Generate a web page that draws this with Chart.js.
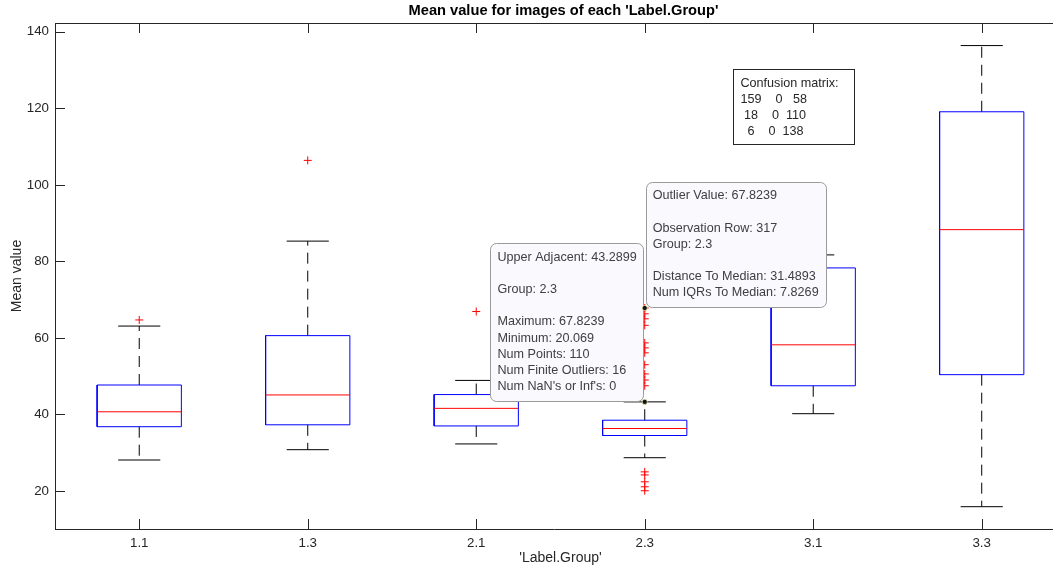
<!DOCTYPE html>
<html>
<head>
<meta charset="utf-8">
<script src="https://cdn.jsdelivr.net/npm/chart.js@4.4.0/dist/chart.umd.min.js"></script>
<style>
  html, body { margin: 0; padding: 0; background: #fff; }
  #wrap { width: 1053px; height: 574px; position: relative; }
</style>
</head>
<body>
<div id="wrap"><canvas id="boxChart"></canvas></div>
<script>
// Box statistics per group
const groups = ['1.1', '1.3', '2.1', '2.3', '3.1', '3.3'];
const lowerAdjacent = [28.1, 30.8, 32.3, 28.7, 40.2, 15.9];
const quartile1 = [36.8, 37.3, 37.0, 34.5, 47.5, 50.4];
const medians = [40.7, 45.1, 41.6, 36.33, 58.2, 88.3];
const quartile3 = [47.7, 60.6, 45.2, 38.5, 78.3, 119.1];
const upperAdjacent = [63.1, 85.3, 48.9, 43.29, 81.7, 136.4];
const outliers = [
    [64.7],
    [106.4],
    [66.9],
    [67.8239, 66.3, 65.0, 63.3, 58.7, 57.4, 56.1, 53.0, 50.6, 49.0, 47.5, 25.0, 24.2, 22.4, 21.1, 20.069],
    [],
    []
];
const yTicks = [20, 40, 60, 80, 100, 120, 140];

// Confusion matrix textbox
const confusion = [[159, 0, 58], [18, 0, 110], [6, 0, 138]];

// Data tips (both on group 2.3)
const adjacentTip = { group: 4, value: 43.2899, lines: ['Upper Adjacent: 43.2899', '', 'Group: 2.3', '', 'Maximum: 67.8239', 'Minimum: 20.069', 'Num Points: 110', 'Num Finite Outliers: 16', "Num NaN's or Inf's: 0"] };
const outlierTip = { group: 4, value: 67.8239, lines: ['Outlier Value: 67.8239', '', 'Observation Row: 317', 'Group: 2.3', '', 'Distance To Median: 31.4893', 'Num IQRs To Median: 7.8269'] };

const FONT = "'Liberation Sans', Arial, Helvetica, sans-serif";
const AXIS_COLOR = '#262626';
const BOX_HALF = 0.25, CAP_HALF = 0.125;

// build line segments (null y breaks the line)
const boxPts = [], medPts = [], whiskerPts = [], capPts = [], outPts = [];
groups.forEach((g, i) => {
    const x = i + 1;
    const gap = { x: x, y: null };
    boxPts.push({ x: x - BOX_HALF, y: quartile1[i] }, { x: x + BOX_HALF, y: quartile1[i] },
        { x: x + BOX_HALF, y: quartile3[i] }, { x: x - BOX_HALF, y: quartile3[i] },
        { x: x - BOX_HALF, y: quartile1[i] }, gap);
    medPts.push({ x: x - BOX_HALF, y: medians[i] }, { x: x + BOX_HALF, y: medians[i] }, gap);
    whiskerPts.push({ x: x, y: quartile3[i] }, { x: x, y: upperAdjacent[i] }, gap,
        { x: x, y: quartile1[i] }, { x: x, y: lowerAdjacent[i] }, gap);
    capPts.push({ x: x - CAP_HALF, y: upperAdjacent[i] }, { x: x + CAP_HALF, y: upperAdjacent[i] }, gap,
        { x: x - CAP_HALF, y: lowerAdjacent[i] }, { x: x + CAP_HALF, y: lowerAdjacent[i] }, gap);
    outliers[i].forEach(v => outPts.push({ x: x, y: v }));
});

const seg = (data, color, dash) => ({
    data: data, borderColor: color, borderWidth: 1, borderDash: dash || [],
    pointRadius: 0, pointHitRadius: 0, spanGaps: false, fill: false, tension: 0
});

function drawTip(ctx, tip, px, py, side) {
    ctx.font = `12.6px ${FONT}`;
    const lineH = 16.2, padX = 7, padY = 6;
    const w = Math.max(...tip.lines.map(l => ctx.measureText(l).width)) + padX * 2;
    const h = tip.lines.length * lineH + padY * 2;
    const left = side === 'left' ? px - w - 1 : px + 1;
    const top = py - h - 1;
    ctx.beginPath();
    ctx.roundRect(Math.round(left) + 0.5, Math.round(top) + 0.5, Math.round(w), Math.round(h), 6);
    ctx.fillStyle = '#f9f9fe';
    ctx.fill();
    ctx.strokeStyle = '#9a9a9a';
    ctx.lineWidth = 1;
    ctx.stroke();
    ctx.fillStyle = '#404040';
    ctx.textAlign = 'left';
    ctx.textBaseline = 'middle';
    tip.lines.forEach((l, k) => ctx.fillText(l, left + padX, top + padY + lineH * (k + 0.5)));
}

const extras = {
    id: 'matlabExtras',
    afterDraw(chart) {
        const { ctx, chartArea: a, scales: { x, y } } = chart;
        ctx.save();
        // axes box top line and inward ticks
        ctx.strokeStyle = AXIS_COLOR;
        ctx.lineWidth = 1;
        ctx.beginPath();
        ctx.moveTo(a.left, Math.round(a.top) + 0.5);
        ctx.lineTo(a.right, Math.round(a.top) + 0.5);
        groups.forEach((g, i) => {
            const px = Math.round(x.getPixelForValue(i + 1)) + 0.5;
            ctx.moveTo(px, a.bottom); ctx.lineTo(px, a.bottom - 10);
            ctx.moveTo(px, a.top); ctx.lineTo(px, a.top + 10);
        });
        yTicks.forEach(v => {
            const py = Math.round(y.getPixelForValue(v)) + 0.5;
            ctx.moveTo(a.left, py); ctx.lineTo(a.left + 10, py);
        });
        ctx.stroke();

        // titles
        const cx = x.getPixelForValue(3.5);
        ctx.fillStyle = '#000';
        ctx.textAlign = 'center';
        ctx.textBaseline = 'middle';
        ctx.font = `bold 14.67px ${FONT}`;
        ctx.fillText("Mean value for images of each 'Label.Group'", cx + 3, 11);
        ctx.fillStyle = AXIS_COLOR;
        ctx.font = `14px ${FONT}`;
        ctx.fillText("'Label.Group'", cx, 558);

        // data tips
        const tx = x.getPixelForValue(adjacentTip.group);
        const ay = y.getPixelForValue(adjacentTip.value);
        const oy = y.getPixelForValue(outlierTip.value);
        drawTip(ctx, adjacentTip, tx, ay, 'left');
        drawTip(ctx, outlierTip, tx, oy, 'right');
        [ay, oy].forEach(py => {
            ctx.beginPath();
            ctx.arc(tx, py, 2.6, 0, Math.PI * 2);
            ctx.fillStyle = '#111';
            ctx.fill();
            ctx.strokeStyle = 'rgba(255,255,190,0.9)';
            ctx.lineWidth = 0.8;
            ctx.stroke();
        });

        // confusion matrix textbox
        ctx.fillStyle = '#fff';
        ctx.fillRect(733, 69, 121, 75);
        ctx.strokeStyle = AXIS_COLOR;
        ctx.lineWidth = 1;
        ctx.strokeRect(733.5, 69.5, 121, 75);
        ctx.fillStyle = AXIS_COLOR;
        ctx.textAlign = 'left';
        ctx.font = `12.6px ${FONT}`;
        const rows = ['Confusion matrix:'].concat(
            confusion.map(r => r.map(v => String(v).padStart(3, ' ')).join('  ')));
        rows.forEach((r, k) => ctx.fillText(r, 740.5, 83.5 + k * 16));
        ctx.restore();
    }
};

new Chart(document.getElementById('boxChart'), {
    type: 'line',
    data: {
        datasets: [
            Object.assign(seg(outPts, '#ff0000'), {
                showLine: false, pointStyle: 'cross', pointRadius: 4,
                pointBorderColor: '#ff0000', pointBorderWidth: 1
            }),
            seg(medPts, '#ff0000'),
            seg(boxPts, '#0000ff'),
            seg(capPts, '#000000'),
            seg(whiskerPts, '#000000', [11, 7])
        ]
    },
    options: {
        responsive: true,
        maintainAspectRatio: false,
        animation: false,
        events: [],
        layout: { autoPadding: false, padding: { top: 23, right: 0, bottom: 0, left: 0 } },
        plugins: { legend: { display: false }, tooltip: { enabled: false }, title: { display: false } },
        scales: {
            x: {
                type: 'linear', min: 0.5, max: 6.423,
                afterFit: s => { s.height = 45; s.paddingLeft = 0; s.paddingRight = 0; },
                afterBuildTicks: s => { s.ticks = groups.map((g, i) => ({ value: i + 1 })); },
                grid: { display: false, drawTicks: false },
                border: { display: true, color: AXIS_COLOR, width: 1 },
                ticks: {
                    padding: 6, color: AXIS_COLOR, maxRotation: 0, autoSkip: false,
                    font: { family: FONT, size: 13.33 },
                    callback: v => groups[v - 1]
                }
            },
            y: {
                type: 'linear', min: 10.07, max: 142.3,
                afterFit: s => { s.width = 55; s.paddingTop = 0; s.paddingBottom = 0; },
                afterBuildTicks: s => { s.ticks = yTicks.map(v => ({ value: v })); },
                grid: { display: false, drawTicks: false },
                border: { display: true, color: AXIS_COLOR, width: 1 },
                ticks: { padding: 6, color: AXIS_COLOR, font: { family: FONT, size: 13.33 } },
                title: {
                    display: true, text: 'Mean value', color: AXIS_COLOR,
                    font: { family: FONT, size: 14 }, padding: { top: 9, bottom: 0 }
                }
            }
        }
    },
    plugins: [extras]
});
</script>
</body>
</html>
